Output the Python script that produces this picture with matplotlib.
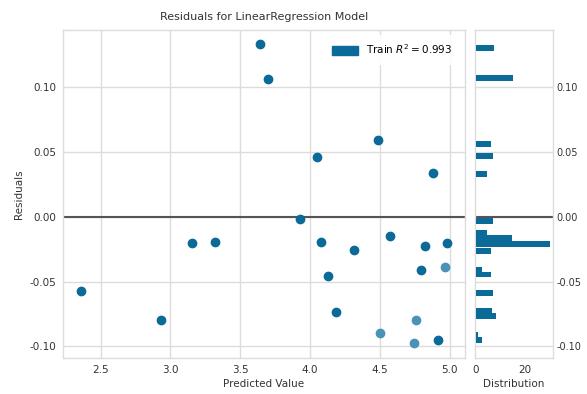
import numpy as np
import matplotlib
matplotlib.use("Agg")
import matplotlib.pyplot as plt
from matplotlib.patches import Patch

# residual points (predicted value, residual)
pred_dark = [3.639, 3.696, 4.484, 4.047, 4.878, 3.926, 3.156, 3.319, 4.076,
             4.317, 4.575, 4.823, 4.983, 4.796, 4.128, 2.361, 2.930, 4.183,
             4.914]
resid_dark = [0.133, 0.106, 0.059, 0.046, 0.034, -0.002, -0.0205, -0.0195,
              -0.0195, -0.026, -0.015, -0.0228, -0.020, -0.041, -0.046,
              -0.0575, -0.0795, -0.0735, -0.095]
pred_light = [4.970, 4.757, 4.499, 4.744]
resid_light = [-0.039, -0.0795, -0.090, -0.0975]

# histogram of residuals (bin centre, density)
hist_bins = [0.130, 0.107, 0.056, 0.047, 0.033, -0.0035, -0.0127, -0.0165,
             -0.0212, -0.0262, -0.0408, -0.0446, -0.0588, -0.0727, -0.0769,
             -0.0915, -0.0954]
hist_vals = [7.5, 15.4, 6.2, 7.2, 4.4, 7.2, 4.7, 15.0, 30.5, 6.0, 2.4, 6.0,
             7.2, 6.5, 8.3, 1.0, 2.4]

yticks = [-0.10, -0.05, 0.00, 0.05, 0.10]
ytick_labels = ["-0.10", "-0.05", "0.00", "0.05", "0.10"]
xticks = [2.5, 3.0, 3.5, 4.0, 4.5, 5.0]

r2 = 0.993

dark = "#0a6a98"
light = "#4a92b8"
gridc = "#dcdcdc"

plt.rcParams["font.family"] = "DejaVu Sans"
plt.rcParams["font.size"] = 7.5

fig = plt.figure(figsize=(5.87, 3.94), dpi=100)
W, H = 587, 394
ax = fig.add_axes([63 / W, (H - 358) / H, (465 - 63) / W, (358 - 30) / H])
hax = fig.add_axes([475 / W, (H - 358) / H, (552.5 - 475) / W, (358 - 30) / H])

for a in (ax, hax):
    a.set_facecolor("white")
    a.grid(True, color=gridc, linewidth=1)
    a.set_axisbelow(True)
    for s in a.spines.values():
        s.set_color(gridc)
        s.set_linewidth(1)
    a.tick_params(length=0, colors="#333333", labelsize=7.5, pad=5)

ax.scatter(pred_dark, resid_dark, s=36, color=dark, zorder=3)
ax.scatter(pred_light, resid_light, s=36, color=light, zorder=3)
ax.axhline(0, color="#555555", linewidth=1.5, zorder=2)
ax.set_xlim(2.23, 5.11)
ax.set_ylim(-0.109, 0.144)
ax.set_xticks(xticks)
ax.set_yticks(yticks)
ax.set_xticklabels(["%.1f" % v for v in xticks])
ax.set_yticklabels(ytick_labels)
ax.set_xlabel("Predicted Value", color="#333333", fontsize=7.5, labelpad=3)
ax.set_ylabel("Residuals", color="#333333", fontsize=7.5, labelpad=4)
ax.set_title("Residuals for LinearRegression Model", color="#333333",
             fontsize=8, pad=7)

leg = ax.legend(handles=[Patch(color=dark)],
                labels=["Train $R^2 = %.3f$" % r2],
                loc="upper right", frameon=True, fontsize=7.5,
                handlelength=2.5, handleheight=0.9, borderpad=0.7)
leg.get_frame().set_facecolor("white")
leg.get_frame().set_edgecolor("white")
leg.get_frame().set_alpha(0.9)

hax.barh(hist_bins, hist_vals, height=0.0046, color=dark, zorder=3)
hax.axhline(0, color="#555555", linewidth=1.5, zorder=2)
hax.set_ylim(ax.get_ylim())
hax.set_xlim(-0.4, 31.5)
hax.set_xticks([0, 20])
hax.set_yticks(yticks)
hax.set_yticklabels(ytick_labels)
hax.yaxis.tick_right()
hax.tick_params(axis="y", pad=3, labelsize=7)
hax.grid(False, axis="x")
hax.set_xlabel("Distribution", color="#333333", fontsize=7.5, labelpad=3)

fig.savefig("out.png", dpi=100)
